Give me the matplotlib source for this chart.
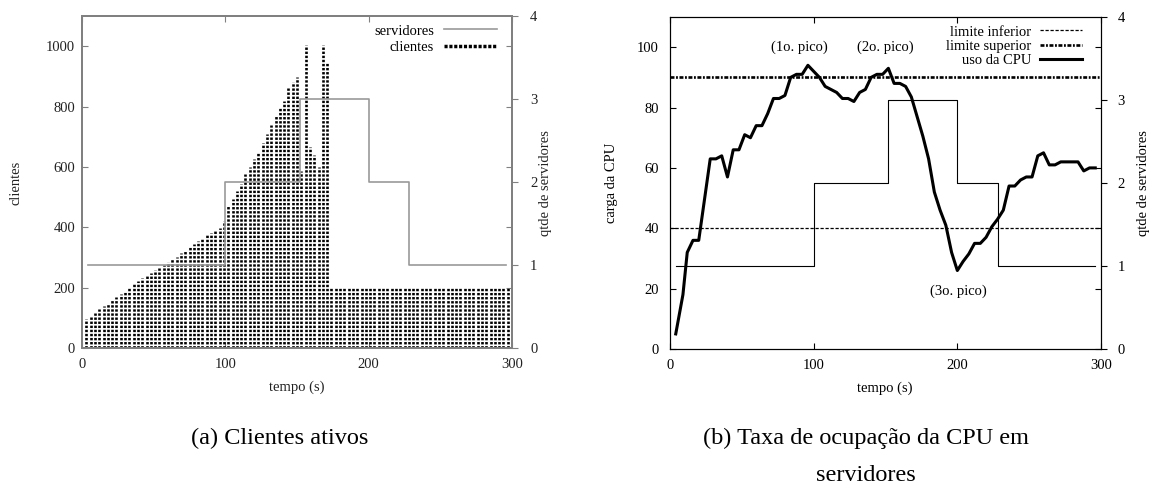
import matplotlib
matplotlib.use('Agg')
import matplotlib.pyplot as plt
from matplotlib.lines import Line2D

plt.rcParams['font.family'] = ['Liberation Serif', 'DejaVu Serif']
plt.rcParams['font.size'] = 10.5

# ---------------- data: (a) clientes ativos ----------------
cli_time = [3, 6, 9, 12, 15, 18, 21, 24, 27, 30, 33, 36, 39, 42, 45, 48, 51, 54, 57, 60,
            63, 66, 69, 72, 75, 78, 81, 84, 87, 90, 93, 96, 99,
            102, 105, 108, 111, 114, 117, 120, 123, 126, 129, 132, 135, 138, 141, 144, 147, 150,
            153, 156, 159, 162, 165, 168, 171,
            174, 177, 180, 183, 186, 189, 192, 195, 198, 201, 204, 207, 210, 213, 216, 219,
            222, 225, 228, 231, 234, 237, 240, 243, 246, 249, 252, 255, 258, 261, 264, 267,
            270, 273, 276, 279, 282, 285, 288, 291, 294, 297]
clientes = [96, 106, 116, 130, 140, 150, 160, 170, 180, 190, 200, 211, 221, 231, 241, 249, 258, 266, 275, 284,
            294, 303, 314, 324, 334, 344, 354, 364, 373, 381, 389, 398, 420,
            470, 495, 520, 545, 575, 600, 625, 650, 680, 710, 740, 770, 795, 818, 860, 880, 898,
            585, 1005, 665, 640, 600, 1005, 945,
            200, 200, 200, 200, 200, 200, 200, 200, 200, 200, 200, 200, 200, 200, 200, 200,
            200, 200, 200, 200, 200, 200, 200, 200, 200, 200, 200, 200, 200, 200, 200, 200,
            200, 200, 200, 200, 200, 200, 200, 200, 200, 200]

# servers (both panels)
srv_time = [4, 100, 152, 200, 228, 296]
servidores = [1, 2, 3, 2, 1, 1]

# ---------------- data: (b) CPU ----------------
cpu_time = [4, 9, 12, 16, 20, 28, 32, 36, 40, 44, 48, 52, 56, 60, 64, 68, 72, 76, 80, 84,
            88, 92, 96, 100, 104, 108, 112, 116, 120, 124, 128, 132, 136, 140, 144, 148, 152,
            156, 160, 164, 168, 172, 176, 180, 184, 188, 192, 196, 200, 204, 208, 212, 216,
            220, 224, 228, 232, 236, 240, 244, 248, 252, 256, 260, 264, 268, 272, 276, 280,
            284, 288, 292, 296]
cpu = [5, 18, 32, 36, 36, 63, 63, 64, 57, 66, 66, 71, 70, 74, 74, 78, 83, 83, 84, 90,
       91, 91, 94, 92, 90, 87, 86, 85, 83, 83, 82, 85, 86, 90, 91, 91, 93,
       88, 88, 87, 83.5, 77, 70.5, 63, 52, 46, 41, 32, 26, 29, 31.5, 35, 35,
       37, 40.5, 43, 46, 54, 54, 56, 57, 57, 64, 65, 61, 61, 62, 62, 62,
       62, 59, 60, 60]
limite_inferior = 40
limite_superior = 90
picos_label = ['(1o. pico)', '(2o. pico)', '(3o. pico)']
picos_x = [90, 150, 201]
picos_y = [100, 100, 19]

W, H = 1152, 493
fig = plt.figure(figsize=(W / 100, H / 100), dpi=100)


def frac(l, t, r, b):
    return [l / W, 1 - b / H, (r - l) / W, (b - t) / H]


# ================= (a) =================
gray = '#808080'
axL = fig.add_axes(frac(82, 16, 512, 348))
axL.vlines(cli_time, 0, clientes, colors='black', linewidth=1.9,
           linestyles=[(0, (0.9, 0.65))])
axL.set_xlim(0, 300)
axL.set_ylim(0, 1100)
axL.set_xticks([0, 100, 200, 300])
axL.set_yticks([0, 200, 400, 600, 800, 1000])
for s in axL.spines.values():
    s.set_color(gray)
    s.set_linewidth(1.4)

axL2 = axL.twinx()
l_srv, = axL2.step(srv_time, servidores, where='post', color='#999999', lw=1.2)
axL2.set_ylim(0, 4)
axL2.set_yticks([0, 1, 2, 3, 4])
axL2.set_xlim(0, 300)
for s in axL2.spines.values():
    s.set_color(gray)
    s.set_linewidth(1.4)

axL.tick_params(direction='in', length=4, top=True, right=True, color=gray,
                labelcolor='#222222', pad=5)
axL.tick_params(axis='x', pad=7)
axL2.tick_params(direction='out', length=4, color=gray, labelcolor='#222222', pad=9)

cli_proxy = Line2D([], [], color='black', lw=2.5, linestyle=(0, (0.9, 0.5)))
axL2.legend([l_srv, cli_proxy], ['servidores', 'clientes'], loc='upper right',
            bbox_to_anchor=(0.965, 0.975), frameon=False, markerfirst=False,
            handlelength=3.6, handletextpad=0.7, labelspacing=0.2,
            borderpad=0, borderaxespad=0, fontsize=10.5)

fig.text(297 / W, 1 - 387 / H, 'tempo (s)', ha='center', va='center', color='#222222')
fig.text(16 / W, 1 - 183 / H, 'clientes', ha='center', va='center', rotation=90, color='#222222')
fig.text(546 / W, 1 - 183 / H, 'qtde de servidores', ha='center', va='center', rotation=90,
         color='#222222')

# ================= (b) =================
axR = fig.add_axes(frac(670, 17, 1101, 349))
l_inf = axR.axhline(limite_inferior, color='black', lw=0.9, linestyle=(0, (2.6, 1.4)))
l_sup = axR.axhline(limite_superior, color='black', lw=1.9, linestyle=(0, (1.5, 0.6, 0.7, 0.6)))
l_cpu, = axR.plot(cpu_time, cpu, color='black', lw=2.2, solid_joinstyle='round')
axR.set_xlim(0, 300)
axR.set_ylim(0, 110)
axR.set_xticks([0, 100, 200, 300])
axR.set_yticks([0, 20, 40, 60, 80, 100])
for lab, x, y in zip(picos_label, picos_x, picos_y):
    axR.text(x, y, lab, ha='center', va='center')

axR2 = axR.twinx()
axR2.step(srv_time, servidores, where='post', color='black', lw=0.8)
axR2.set_ylim(0, 4)
axR2.set_yticks([0, 1, 2, 3, 4])
axR2.set_xlim(0, 300)

axR.tick_params(direction='in', length=4, top=True, right=True, pad=8)
axR.tick_params(axis='x', pad=7)
axR2.tick_params(direction='out', length=4, pad=8)

axR2.legend([l_inf, l_sup, l_cpu], ['limite inferior', 'limite superior', 'uso da CPU'],
            loc='upper right', bbox_to_anchor=(0.957, 0.975), frameon=False,
            markerfirst=False, handlelength=2.9, handletextpad=0.6, labelspacing=0.08,
            borderpad=0, borderaxespad=0, fontsize=10.5)

fig.text(885 / W, 1 - 388 / H, 'tempo (s)', ha='center', va='center')
fig.text(611 / W, 1 - 183 / H, 'carga da CPU', ha='center', va='center', rotation=90)
fig.text(1143 / W, 1 - 183 / H, 'qtde de servidores', ha='center', va='center', rotation=90)

# ================= captions =================
fig.text(280 / W, 1 - 438 / H, '(a) Clientes ativos', ha='center', va='center', fontsize=17.5)
fig.text(866 / W, 1 - 457 / H, '(b) Taxa de ocupação da CPU em\nservidores', ha='center',
         va='center', fontsize=17.5, linespacing=2.0)

fig.savefig('out.png', dpi=100)
